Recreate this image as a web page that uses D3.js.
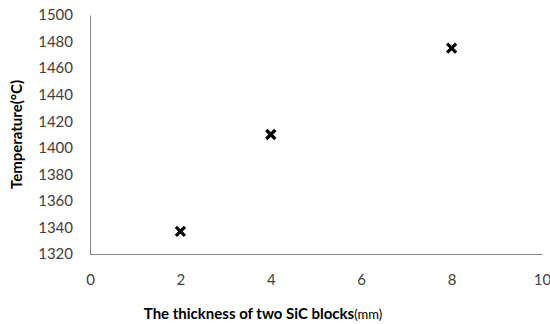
<!DOCTYPE html>
<html>
<head>
<meta charset="utf-8">
<script src="https://cdn.jsdelivr.net/npm/d3@7/dist/d3.min.js"></script>
<style>
  html, body { margin: 0; padding: 0; background: #fff; }
  svg { display: block; }
  text { font-family: Lato, "Open Sans", sans-serif; }
</style>
</head>
<body>
<script>
// Peak temperature versus total thickness of the two SiC blocks
const thickness = [2, 4, 8];
const temperature = [1337, 1410, 1475];
const xTicks = [0, 2, 4, 6, 8, 10];
const yTicks = [1320, 1340, 1360, 1380, 1400, 1420, 1440, 1460, 1480, 1500];

const W = 550, H = 324;
const svg = d3.select("body").append("svg").attr("width", W).attr("height", H);

const x = d3.scaleLinear().domain([0, 10]).range([90, 542]);
const y = d3.scaleLinear().domain([1320, 1500]).range([254, 15]);

const axisColor = "#868686";
const labelColor = "#404040";

// y axis
const gy = svg.append("g").attr("transform", `translate(${x(0)},0)`)
  .call(d3.axisLeft(y).tickValues(yTicks).tickSize(0).tickPadding(17).tickFormat(d3.format("d")));
gy.select(".domain").attr("stroke", axisColor).attr("stroke-width", 1);
gy.selectAll("text").attr("fill", labelColor).style("font-size", "15px");

// x axis
const gx = svg.append("g").attr("transform", `translate(0,${y(1320)})`)
  .call(d3.axisBottom(x).tickValues(xTicks).tickSize(0).tickPadding(20).tickFormat(d3.format("d")));
gx.select(".domain").attr("stroke", axisColor).attr("stroke-width", 1);
gx.selectAll("text").attr("fill", labelColor).style("font-size", "15px");

// axis titles
svg.append("text")
  .attr("transform", `translate(22,${(y(1320) + y(1500)) / 2}) rotate(-90)`)
  .attr("text-anchor", "middle")
  .style("font-size", "15px").style("font-weight", "bold").attr("fill", "#000")
  .text("Temperature(°C)");

const xt = svg.append("text")
  .attr("x", 263).attr("y", 319)
  .attr("text-anchor", "middle")
  .style("font-size", "15px").style("font-weight", "bold").attr("fill", "#000");
xt.append("tspan").text("The thickness of two SiC blocks");
xt.append("tspan").style("font-weight", "normal").style("font-size", "13px").text("(mm)");

// x-shaped markers
const s = 4.5;
const pts = svg.append("g").selectAll("g")
  .data(thickness.map((t, i) => ({ t, v: temperature[i] })))
  .join("g")
  .attr("transform", d => `translate(${x(d.t)},${y(d.v)})`);
pts.append("path")
  .attr("d", `M${-s},${-s}L${s},${s}M${-s},${s}L${s},${-s}`)
  .attr("stroke", "#000").attr("stroke-width", 3.2).attr("fill", "none");
</script>
</body>
</html>
